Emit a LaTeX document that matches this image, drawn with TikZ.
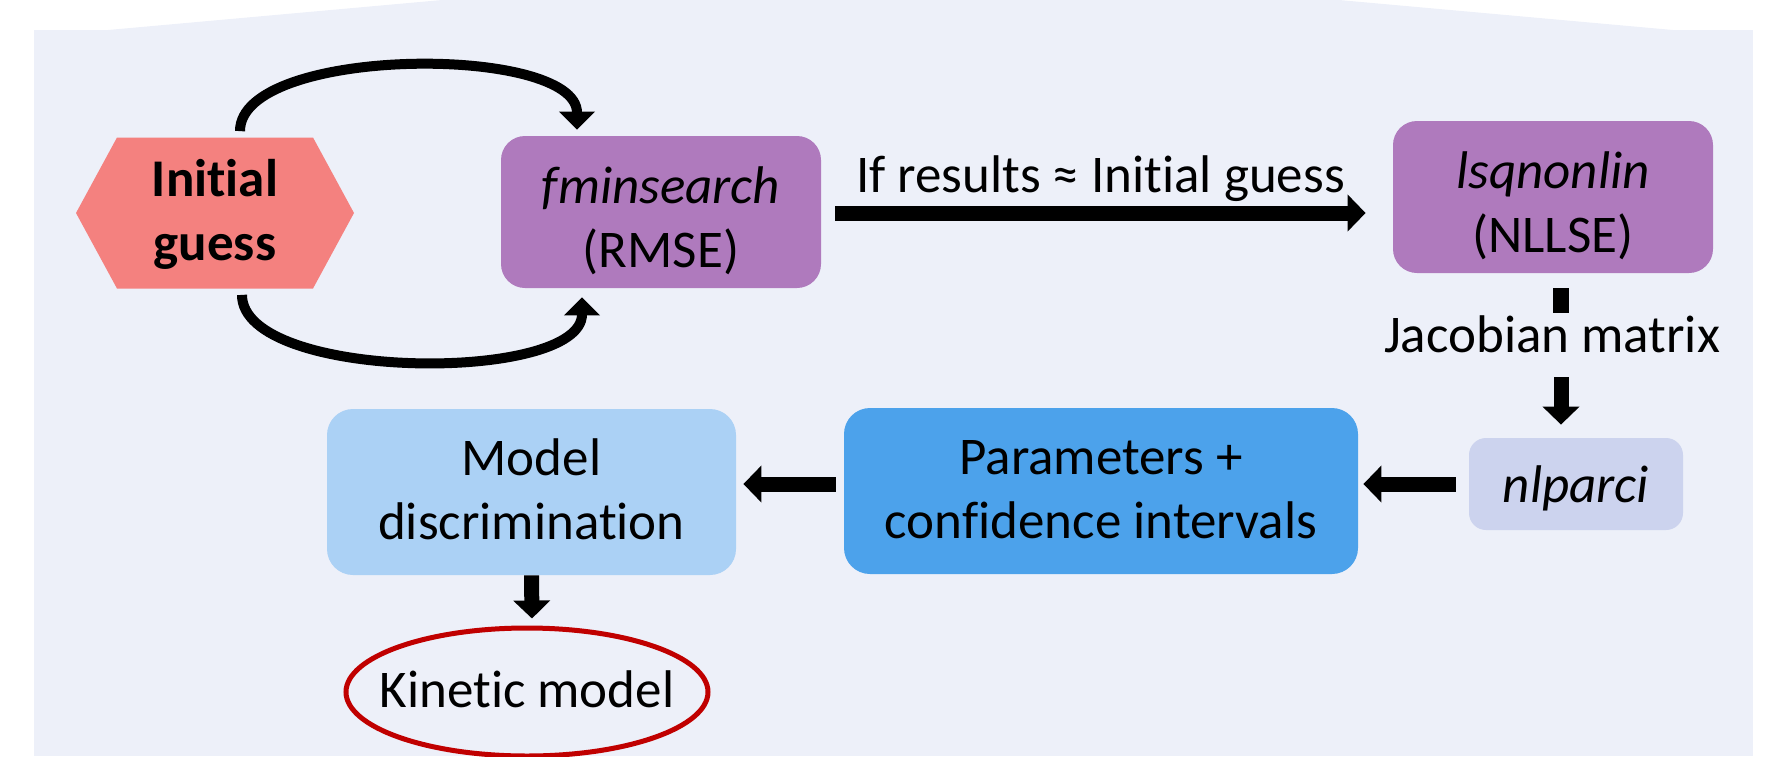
\documentclass[tikz,border=0pt]{standalone}
\usepackage{fontspec}
\setmainfont{Carlito}[Ligatures=NoCommon]
\usetikzlibrary{shapes.geometric, shapes.symbols, arrows.meta}
\definecolor{bgcol}{HTML}{EDF0F9}
\definecolor{guesscol}{HTML}{F4817F}
\definecolor{solvercol}{HTML}{AF7ABD}
\definecolor{ncicol}{HTML}{CCD3EE}
\definecolor{paramcol}{HTML}{4CA2EB}
\definecolor{modelcol}{HTML}{ABD1F5}
\definecolor{kincol}{HTML}{C00000}
\newcommand{\diagfont}{\fontsize{26.5}{32}\selectfont}
\tikzstyle{startbox} = [signal, signal to=east and west, signal pointer angle=123, minimum width=139pt, minimum height=75.5pt, inner sep=0pt, text height=47pt, text depth=0pt, align=center, fill=guesscol, font=\diagfont\bfseries]
\tikzstyle{solver} = [rectangle, rounded corners=12pt, minimum width=160pt, minimum height=76pt, text height=55pt, text depth=0pt, align=center, fill=solvercol]
\tikzstyle{result} = [rectangle, rounded corners=13pt, minimum height=83pt, text height=47.5pt, text depth=0pt, align=center]
\tikzstyle{endmodel} = [ellipse, minimum width=181pt, minimum height=64pt, inner xsep=-10pt, inner ysep=0pt, text height=17pt, text depth=2pt, draw=kincol, line width=2.5pt]
\tikzstyle{arrow} = [line width=7.5pt, -{Triangle[width=18pt,length=9pt]}]
\tikzstyle{looparrow} = [line width=5pt, -{Triangle[width=17.5pt,length=9pt]}]
\tikzstyle{stub} = [line width=8pt]

\begin{document}
\begin{tikzpicture}[x=0.5pt, y=-0.5pt, font=\diagfont]

\useasboundingbox (0,0) rectangle (1779,756);
\fill[bgcol] (34,30) rectangle (1753,756);
\fill[bgcol] (108,30) -- (442,0) -- (1339,0) -- (1673,30) -- cycle;

\node (guess) [startbox] at (215,213) {Initial\\guess};
\node (fmin) [solver] at (661,212) {\textit{fminsearch}\\(RMSE)};
\node (lsq) [solver] at (1553,197) {\textit{lsqnonlin}\\(NLLSE)};
\node (jac) [anchor=base, text height=19pt, text depth=6pt, inner sep=0.5pt] at (1552,352) {Jacobian matrix};
\node (nlparci) [rectangle, rounded corners=8.5pt, minimum width=107pt, minimum height=46pt, text height=19pt, text depth=1pt, fill=ncicol] at (1576,484) {\textit{nlparci}};
\node (params) [result, minimum width=257pt, fill=paramcol] at (1101,491) {Parameters +\\confidence intervals};
\node (model) [result, minimum width=204.5pt, fill=modelcol] at (531.5,492) {Model\\discrimination};
\node (kinetic) [endmodel] at (527,692) {Kinetic model};

\draw [looparrow] ([xshift=12.5pt,yshift=3pt]guess.north) to[out=90,in=90,looseness=0.65] ([xshift=-42pt,yshift=3pt]fmin.north);
\draw [looparrow] ([xshift=13.5pt,yshift=-3pt]guess.south) to[out=-90,in=-90,looseness=0.65] ([xshift=-39.5pt,yshift=-4.5pt]fmin.south);
\draw [arrow] ([xshift=7pt,yshift=-0.5pt]fmin.east) -- ([xshift=-13.5pt,yshift=-8pt]lsq.west) node[midway, anchor=base, yshift=10.5pt] {If results ≈ Initial guess};
\draw [stub] ([xshift=4pt,yshift=-7.5pt]lsq.south) -- ([xshift=4.5pt]jac.north);
\draw [arrow] ([xshift=4.5pt,yshift=-6pt]jac.south) -- ([xshift=-7.5pt,yshift=6.5pt]nlparci.north);
\draw [arrow] ([xshift=-6.5pt]nlparci.west) -- ([xshift=2.5pt,yshift=3.5pt]params.east);
\draw [arrow] ([xshift=-4pt,yshift=3.5pt]params.west) -- ([xshift=3.5pt,yshift=4pt]model.east);
\draw [arrow] (model.south) -- ([xshift=2.5pt,yshift=3.5pt]kinetic.north);

\end{tikzpicture}
\end{document}
